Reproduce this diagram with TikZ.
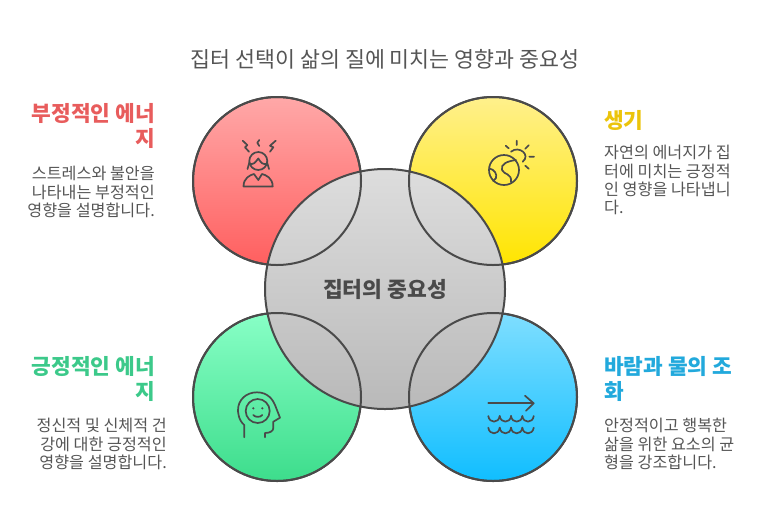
\documentclass[tikz,border=0pt]{standalone}
\usepackage{fontspec}
\usepackage{xcolor}
\setmainfont{Noto Sans CJK KR}
\definecolor{ink}{HTML}{4A4A4A}
\definecolor{label}{HTML}{555555}
\definecolor{redhead}{HTML}{E85C5C}
\definecolor{yellowhead}{HTML}{EBC40C}
\definecolor{greenhead}{HTML}{3CC98A}
\definecolor{bluehead}{HTML}{22A9DC}
\definecolor{hubtop}{HTML}{DDDDDD}
\definecolor{hubbottom}{HTML}{B9B9B9}
\definecolor{redtop}{HTML}{FFA8A8}
\definecolor{redbottom}{HTML}{FF5F5F}
\definecolor{yellowtop}{HTML}{FFF08C}
\definecolor{yellowbottom}{HTML}{FFE500}
\definecolor{greentop}{HTML}{88FFC6}
\definecolor{greenbottom}{HTML}{3DDD8C}
\definecolor{bluetop}{HTML}{7FDEFF}
\definecolor{bluebottom}{HTML}{10BEFF}
\tikzset{
    bubble/.style = {circle, draw=ink, line width=2pt, minimum size=168pt, inner sep=0pt},
    bubble-ring/.style = {circle, draw=ink, line width=2pt, minimum size=168pt, inner sep=0pt},
    bubble-hub/.style = {circle, draw=ink, line width=2pt, minimum size=240pt, inner sep=0pt, top color=hubtop, bottom color=hubbottom, text=ink, font=\fontsize{21.5}{26}\selectfont\bfseries},
    side-title/.style = {inner sep=0pt, font=\fontsize{21.4}{25}\selectfont\bfseries},
    side-text/.style = {inner sep=0pt, text=label, font=\fontsize{16.2}{18.4}\selectfont},
    icon-line/.style = {draw=ink, line width=1.7pt, line cap=round, line join=round},
}
\begin{document}
\begin{tikzpicture}[x=1pt,y=-1pt]
\useasboundingbox (0,0) rectangle (770,531);
\node [text=label, inner sep=0pt, font=\fontsize{21.7}{26}\selectfont] (title) at (385,59) {집터 선택이 삶의 질에 미치는 영향과 중요성};

\node [bubble, top color=redtop, bottom color=redbottom] (stress) at (277,181) {};
\node [bubble, top color=yellowtop, bottom color=yellowbottom] (energy) at (493,181) {};
\node [bubble, top color=greentop, bottom color=greenbottom] (health) at (277,397) {};
\node [bubble, top color=bluetop, bottom color=bluebottom] (wind) at (493,397) {};
\node [bubble-hub] (hub) at (385,289) {집터의 중요성};
\node [bubble-ring] (stress-ring) at (stress.center) {};
\node [bubble-ring] (energy-ring) at (energy.center) {};
\node [bubble-ring] (health-ring) at (health.center) {};
\node [bubble-ring] (wind-ring) at (wind.center) {};

\node [side-title, text=redhead, align=right, anchor=north east] (stress-title) at (155,103) {부정적인 에너\\지};
\node [side-text, align=right, anchor=north east] (stress-text) at (155,166) {스트레스와 불안을\\나타내는 부정적인\\영향을 설명합니다.};
\node [side-title, text=yellowhead, align=left, anchor=north west] (energy-title) at (604,110) {생기};
\node [side-text, align=left, anchor=north west] (energy-text) at (604,145) {자연의 에너지가 집\\터에 미치는 긍정적\\인 영향을 나타냅니\\다.};
\node [side-title, text=greenhead, align=right, anchor=north east] (health-title) at (155,356) {긍정적인 에너\\지};
\node [side-text, align=right, anchor=north east] (health-text) at (167,418) {정신적 및 신체적 건\\강에 대한 긍정적인\\영향을 설명합니다.};
\node [side-title, text=bluehead, align=left, anchor=north west] (wind-title) at (604,356) {바람과 물의 조\\화};
\node [side-text, align=left, anchor=north west] (wind-text) at (604,418) {안정적이고 행복한\\삶을 위한 요소의 균\\형을 강조합니다.};

\draw [icon-line] (258.3,161) circle (9);
\draw [icon-line] (249.5,162) -- (247.5,169) (267,162) -- (269,169);
\draw [icon-line] (249.5,164) .. controls (254,164) .. (258.3,158.5) .. controls (262,164) .. (267,164);
\draw [icon-line] (243.5,186.5) -- (272.7,186.5) .. controls (272.7,178) and (266,175) .. (262,174) -- (258.3,180) -- (254,174) .. controls (250,175) and (243.5,178) .. (243.5,186.5);
\draw [icon-line] (242.7,140.7) -- (247.3,145) -- (245,147.3) -- (249,151.7);
\draw [icon-line] (259.3,140) -- (257.3,142.7) -- (259.3,146);
\draw [icon-line] (275.7,140.7) -- (270,145.7) -- (273.3,147.3) -- (270,151.7);

\draw [icon-line] (504,170) circle (15);
\draw [icon-line] (511,151.7) .. controls (519,145) and (531,155) .. (522.7,161.7);
\draw [icon-line] (516.7,140.7) -- (516.7,145) (505.7,145.7) -- (508.7,148.3) (528.7,145.3) -- (525.3,148.7) (529.3,156.7) -- (534,156.7) (525.3,165.7) -- (528.7,168.7);
\draw [icon-line] (516,160) .. controls (508,161) and (500,164) .. (502,170) .. controls (504,175) and (512,173) .. (511,182);
\draw [icon-line] (489.3,168.3) .. controls (495,170) and (497,174) .. (496,178) -- (493.3,181);

\draw [icon-line] (244.3,437.3) -- (244.3,425) .. controls (238,420) and (238,411) .. (238,410) .. controls (238,400) and (246,392.3) .. (257,392.3) .. controls (268,392.3) and (273,400) .. (275,405) -- (280,417.7) -- (273.3,421.7) -- (273.3,428) .. controls (273.3,431) and (270,433) .. (265,433) -- (265,437.3);
\draw [icon-line] (257.7,411) circle (12);
\fill [ink] (253.3,408.3) circle (1.2) (262.3,408.3) circle (1.2);
\draw [icon-line] (253.3,415) .. controls (255,417.5) and (260.5,417.5) .. (262.3,415);

\draw [icon-line] (488.3,403.3) -- (533.3,403.3);
\draw [icon-line] (525,395.7) -- (533.7,403.3) -- (526,410.7);
\foreach \wavey in {416,427.7} {
    \foreach \wavex in {488.3,499.7,511,522.3} {
        \draw [icon-line] (\wavex,\wavey) .. controls (\wavex+1,\wavey+7.5) and (\wavex+10.4,\wavey+7.5) .. (\wavex+11.4,\wavey);
    }
}
\end{tikzpicture}
\end{document}
